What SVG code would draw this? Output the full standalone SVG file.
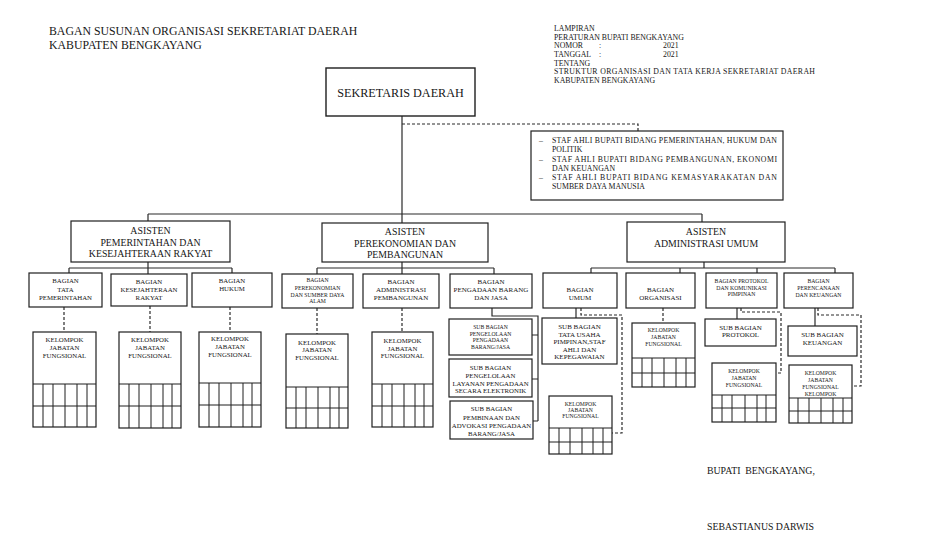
<svg xmlns="http://www.w3.org/2000/svg" width="937" height="543" viewBox="0 0 937 543">
<style>
.bg{fill:#fff}
.box{fill:#fff;stroke:#1e1e1e;stroke-width:1.2}
.gl{stroke:#1e1e1e;stroke-width:1;fill:none}
.t{font-family:"Liberation Serif","DejaVu Serif",serif;fill:#161616}
.c{text-anchor:middle}
.ln{stroke:#2a2a2a;stroke-width:1.2;fill:none}
.dash{stroke-dasharray:3 2}
.f12{font-size:12.2px}
.f11{font-size:11.8px}
.f95{font-size:9.8px}
.f9{font-size:9.8px}
.f75{font-size:7.8px}
.f7{font-size:7px}
.f65{font-size:6.8px}
.f55{font-size:5.7px}
</style>
<rect class="bg" x="0" y="0" width="937" height="543"/>

<g id="title">
<text class="t f11" x="49" y="35">BAGAN SUSUNAN ORGANISASI SEKRETARIAT DAERAH</text>
<text class="t f11" x="49" y="48.5">KABUPATEN BENGKAYANG</text>
</g>

<g id="lampiran" class="t f75">
<text x="554" y="31">LAMPIRAN</text>
<text x="554" y="40">PERATURAN BUPATI BENGKAYANG</text>
<text x="554" y="48">NOMOR</text><text x="599" y="48">:</text><text x="663" y="48">2021</text>
<text x="554" y="57">TANGGAL</text><text x="599" y="57">:</text><text x="663" y="57">2021</text>
<text x="554" y="66">TENTANG</text>
<text x="554" y="74" textLength="261" lengthAdjust="spacing">STRUKTUR ORGANISASI DAN TATA KERJA SEKRETARIAT DAERAH</text>
<text x="554" y="83">KABUPATEN BENGKAYANG</text>
</g>

<g id="connectors">
<path class="ln" d="M402 116V223M148 214H702M148 214V221M702 214V222"/>
<path class="ln dash" d="M402 124H638V131"/>
<path class="ln" d="M148 262V268M69 268H232M69 268V273M148 268V274M232 268V273"/>
<path class="ln" d="M402 262V268M317 268H494M317 268V274M402 268V274M494 268V274"/>
<path class="ln" d="M704 262V268M591 268H835M591 268V273M680 268V273M757 268V273M835 268V273"/>
<path class="ln dash" d="M64 307V332M150 306V332M230 307V332M317 308V334M402 308V332M663 308V323"/>
<path class="ln" d="M492 308V316H538V421M532 335H538M532 379H538M533 421H538"/>
<path class="ln" d="M576 308V318"/>
<path class="ln dash" d="M581 308V315H622V433H612"/>
<path class="ln" d="M737 308V319"/>
<path class="ln dash" d="M741 308V312H781V373H776"/>
<path class="ln" d="M815 308V326"/>
<path class="ln dash" d="M818 308V315H861V386H852"/>
</g>

<g id="sekda">
<rect class="box" x="326" y="68" width="149" height="48" style="stroke-width:1.4"/>
<text class="t f12 c" x="400.5" y="97">SEKRETARIS DAERAH</text>
</g>

<g id="staf-ahli">
<rect class="box" x="531" y="131" width="252" height="69"/>
<g class="t f75">
<text x="539" y="143">–</text>
<text x="552" y="143" textLength="225" lengthAdjust="spacing">STAF AHLI BUPATI BIDANG PEMERINTAHAN, HUKUM DAN</text>
<text x="552" y="152">POLITIK</text>
<text x="539" y="162">–</text>
<text x="552" y="162" textLength="225" lengthAdjust="spacing">STAF AHLI BUPATI BIDANG PEMBANGUNAN, EKONOMI</text>
<text x="552" y="171">DAN KEUANGAN</text>
<text x="539" y="180">–</text>
<text x="552" y="180" textLength="225" lengthAdjust="spacing">STAF AHLI BUPATI BIDANG KEMASYARAKATAN DAN</text>
<text x="552" y="189">SUMBER DAYA MANUSIA</text>
</g>
</g>

<g id="asisten-1">
<rect class="box" x="71" y="221" width="159" height="41"/>
<text class="t f95 c" x="150.5" y="234">ASISTEN</text>
<text class="t f95 c" x="150.5" y="246">PEMERINTAHAN DAN</text>
<text class="t f95 c" x="150.5" y="257">KESEJAHTERAAN RAKYAT</text>
</g>
<g id="asisten-2">
<rect class="box" x="322" y="223" width="166" height="39"/>
<text class="t f95 c" x="405" y="235">ASISTEN</text>
<text class="t f95 c" x="405" y="247">PEREKONOMIAN DAN</text>
<text class="t f95 c" x="405" y="258">PEMBANGUNAN</text>
</g>
<g id="asisten-3">
<rect class="box" x="627" y="222" width="158" height="40"/>
<text class="t f95 c" x="706" y="235">ASISTEN</text>
<text class="t f95 c" x="706" y="247">ADMINISTRASI UMUM</text>
</g>

<g id="bagian-tata-pemerintahan">
<rect class="box" x="29" y="273" width="73" height="34"/>
<text class="t f65 c" x="65.5" y="283">BAGIAN</text>
<text class="t f65 c" x="65.5" y="291.5">TATA</text>
<text class="t f65 c" x="65.5" y="300">PEMERINTAHAN</text>
</g>
<g id="bagian-kesejahteraan-rakyat">
<rect class="box" x="111" y="274" width="76" height="32"/>
<text class="t f65 c" x="149" y="284">BAGIAN</text>
<text class="t f65 c" x="149" y="292">KESEJAHTERAAN</text>
<text class="t f65 c" x="149" y="300">RAKYAT</text>
</g>
<g id="bagian-hukum">
<rect class="box" x="192" y="273" width="80" height="34"/>
<text class="t f65 c" x="232" y="283">BAGIAN</text>
<text class="t f65 c" x="232" y="291">HUKUM</text>
</g>
<g id="bagian-perekonomian">
<rect class="box" x="282" y="274" width="71" height="34"/>
<text class="t f55 c" x="317.5" y="282">BAGIAN</text>
<text class="t f55 c" x="317.5" y="290">PEREKONOMIAN</text>
<text class="t f55 c" x="317.5" y="296.5">DAN SUMBER DAYA</text>
<text class="t f55 c" x="317.5" y="303">ALAM</text>
</g>
<g id="bagian-administrasi-pembangunan">
<rect class="box" x="363" y="274" width="76" height="34"/>
<text class="t f7 c" x="401" y="283.5">BAGIAN</text>
<text class="t f7 c" x="401" y="291.5">ADMINISTRASI</text>
<text class="t f7 c" x="401" y="299.5">PEMBANGUNAN</text>
</g>
<g id="bagian-pengadaan">
<rect class="box" x="450" y="274" width="82" height="34"/>
<text class="t f7 c" x="491" y="284">BAGIAN</text>
<text class="t f7 c" x="491" y="292">PENGADAAN BARANG</text>
<text class="t f7 c" x="491" y="300">DAN JASA</text>
</g>
<g id="bagian-umum">
<rect class="box" x="543" y="273" width="74" height="35"/>
<text class="t f7 c" x="580" y="292">BAGIAN</text>
<text class="t f7 c" x="580" y="300">UMUM</text>
</g>
<g id="bagian-organisasi">
<rect class="box" x="626" y="273" width="69" height="35"/>
<text class="t f7 c" x="660.5" y="292">BAGIAN</text>
<text class="t f7 c" x="660.5" y="300">ORGANISASI</text>
</g>
<g id="bagian-protokol">
<rect class="box" x="706" y="273" width="71" height="35"/>
<text class="t f55 c" x="741.5" y="283">BAGIAN PROTOKOL</text>
<text class="t f55 c" x="741.5" y="289.5">DAN KOMUNIKASI</text>
<text class="t f55 c" x="741.5" y="296">PIMPINAN</text>
</g>
<g id="bagian-perencanaan">
<rect class="box" x="784" y="273" width="69" height="35"/>
<text class="t f55 c" x="818.5" y="283">BAGIAN</text>
<text class="t f55 c" x="818.5" y="290">PERENCANAAN</text>
<text class="t f55 c" x="818.5" y="296.5">DAN KEUANGAN</text>
</g>

<g id="sub-pengelolaan-pengadaan">
<rect class="box" x="449" y="319" width="83" height="36"/>
<text class="t f55 c" x="490.5" y="329">SUB BAGIAN</text>
<text class="t f55 c" x="490.5" y="335.5">PENGELOLAAN</text>
<text class="t f55 c" x="490.5" y="342">PENGADAAN</text>
<text class="t f55 c" x="490.5" y="348.5">BARANG/JASA</text>
</g>
<g id="sub-layanan-elektronik">
<rect class="box" x="449" y="359" width="83" height="38"/>
<text class="t f65 c" x="490.5" y="370">SUB BAGIAN</text>
<text class="t f65 c" x="490.5" y="378">PENGELOLAAN</text>
<text class="t f65 c" x="490.5" y="385.5">LAYANAN PENGADAAN</text>
<text class="t f65 c" x="490.5" y="393">SECARA ELEKTRONIK</text>
</g>
<g id="sub-pembinaan-advokasi">
<rect class="box" x="450" y="401" width="83" height="38"/>
<text class="t f65 c" x="491.5" y="411">SUB BAGIAN</text>
<text class="t f65 c" x="491.5" y="419.5">PEMBINAAN DAN</text>
<text class="t f65 c" x="491.5" y="427.5">ADVOKASI PENGADAAN</text>
<text class="t f65 c" x="491.5" y="435.5">BARANG/JASA</text>
</g>
<g id="sub-tata-usaha">
<rect class="box" x="542" y="318" width="75" height="46"/>
<text class="t f7 c" x="579.5" y="328.5">SUB BAGIAN</text>
<text class="t f7 c" x="579.5" y="336.5">TATA USAHA</text>
<text class="t f7 c" x="579.5" y="343.5">PIMPINAN,STAF</text>
<text class="t f7 c" x="579.5" y="351.5">AHLI DAN</text>
<text class="t f7 c" x="579.5" y="358.5">KEPEGAWAIAN</text>
</g>
<g id="sub-protokol">
<rect class="box" x="705" y="319" width="71" height="27"/>
<text class="t f7 c" x="740.5" y="329.5">SUB BAGIAN</text>
<text class="t f7 c" x="740.5" y="337">PROTOKOL</text>
</g>
<g id="sub-keuangan">
<rect class="box" x="788" y="326" width="69" height="30"/>
<text class="t f7 c" x="822.5" y="336.5">SUB BAGIAN</text>
<text class="t f7 c" x="822.5" y="344.5">KEUANGAN</text>
</g>

<g id="kelompok-1">
<rect class="box" x="33" y="332" width="63" height="95"/>
<path class="gl" d="M33 384H96M33 406H96M43 384V427M53 384V427M65 384V427M77 384V427M87 384V427"/>
<text class="t f65 c" x="64.5" y="341.5">KELOMPOK</text>
<text class="t f65 c" x="64.5" y="349.5">JABATAN</text>
<text class="t f65 c" x="64.5" y="357.5">FUNGSIONAL</text>
</g>
<g id="kelompok-2">
<rect class="box" x="119" y="332" width="62" height="96"/>
<path class="gl" d="M119 384H181M119 406H181M129 384V428M139 384V428M151 384V428M163 384V428M172 384V428"/>
<text class="t f65 c" x="150" y="342">KELOMPOK</text>
<text class="t f65 c" x="150" y="350">JABATAN</text>
<text class="t f65 c" x="150" y="357.5">FUNGSIONAL</text>
</g>
<g id="kelompok-3">
<rect class="box" x="199" y="332" width="62" height="95"/>
<path class="gl" d="M199 383H261M199 405H261M209 383V427M219 383V427M231 383V427M243 383V427M252 383V427"/>
<text class="t f65 c" x="230" y="341">KELOMPOK</text>
<text class="t f65 c" x="230" y="349">JABATAN</text>
<text class="t f65 c" x="230" y="356.5">FUNGSIONAL</text>
</g>
<g id="kelompok-4">
<rect class="box" x="286" y="334" width="62" height="94"/>
<path class="gl" d="M286 387H348M286 408H348M296 387V428M306 387V428M318 387V428M330 387V428M339 387V428"/>
<text class="t f65 c" x="317" y="344.5">KELOMPOK</text>
<text class="t f65 c" x="317" y="352">JABATAN</text>
<text class="t f65 c" x="317" y="360">FUNGSIONAL</text>
</g>
<g id="kelompok-5">
<rect class="box" x="372" y="332" width="61" height="95"/>
<path class="gl" d="M372 384H433M372 406H433M382 384V427M392 384V427M404 384V427M415 384V427M424 384V427"/>
<text class="t f65 c" x="402.5" y="343">KELOMPOK</text>
<text class="t f65 c" x="402.5" y="350.5">JABATAN</text>
<text class="t f65 c" x="402.5" y="358">FUNGSIONAL</text>
</g>
<g id="kelompok-umum">
<rect class="box" x="549" y="396" width="63" height="58"/>
<path class="gl" d="M549 428H612M549 442H612M559 428V454M570 428V454M582 428V454M593 428V454M603 428V454"/>
<text class="t f55 c" x="580.5" y="406">KELOMPOK</text>
<text class="t f55 c" x="580.5" y="412">JABATAN</text>
<text class="t f55 c" x="580.5" y="418">FUNGSIONAL</text>
</g>
<g id="kelompok-organisasi">
<rect class="box" x="632" y="323" width="63" height="64"/>
<path class="gl" d="M632 358H695M632 373H695M642 358V387M652 358V387M664 358V387M676 358V387M686 358V387"/>
<text class="t f55 c" x="663.5" y="332">KELOMPOK</text>
<text class="t f55 c" x="663.5" y="339">JABATAN</text>
<text class="t f55 c" x="663.5" y="346">FUNGSIONAL</text>
</g>
<g id="kelompok-protokol">
<rect class="box" x="712" y="363" width="64" height="59"/>
<path class="gl" d="M712 395H776M712 408H776M722 395V422M732 395V422M745 395V422M757 395V422M766 395V422"/>
<text class="t f55 c" x="744" y="373">KELOMPOK</text>
<text class="t f55 c" x="744" y="380">JABATAN</text>
<text class="t f55 c" x="744" y="387">FUNGSIONAL</text>
</g>
<g id="kelompok-keuangan">
<rect class="box" x="789" y="365" width="63" height="58"/>
<path class="gl" d="M789 398H852M789 411H852M798 398V423M809 398V423M821 398V423M833 398V423M843 398V423"/>
<text class="t f55 c" x="820.5" y="375">KELOMPOK</text>
<text class="t f55 c" x="820.5" y="382">JABATAN</text>
<text class="t f55 c" x="820.5" y="389">FUNGSIONAL</text>
<text class="t f55 c" x="820.5" y="396">KELOMPOK</text>
</g>

<g id="pengesahan">
<text class="t f9" x="707" y="474" xml:space="preserve">BUPATI  BENGKAYANG,</text>
<text class="t f9" x="707" y="530">SEBASTIANUS DARWIS</text>
</g>
</svg>
